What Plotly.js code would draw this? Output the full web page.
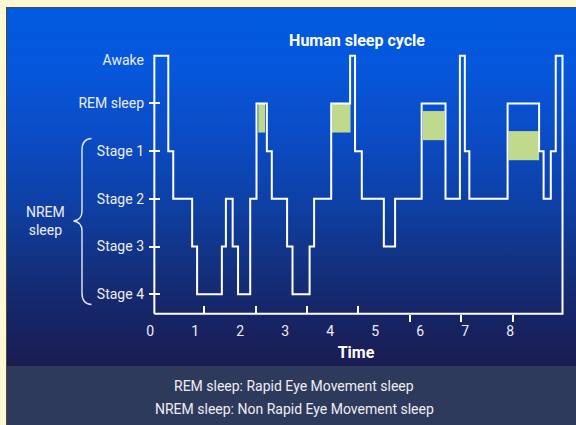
<!DOCTYPE html>
<html>
<head>
<meta charset="utf-8">
<script src="https://cdn.plot.ly/plotly-3.0.1.min.js"></script>
<style>
  html, body { margin: 0; padding: 0; background: #FFF9D3; }
  #wrap { position: relative; width: 576px; height: 425px; overflow: hidden; background: #FFF9D3; }
  #panel {
    position: absolute; left: 6px; top: 7px; width: 600px; height: 440px;
    border: 1.5px solid #4B4A3C; box-sizing: border-box;
    background: linear-gradient(to bottom,
      #005ADF 0px, #0657DC 60px, #0B4BC4 130px, #0E3FA3 200px,
      #13307E 260px, #16266A 300px, #1A1C51 358px,
      #2E3A5B 358px, #2E3A5B 440px);
  }
  #chart { position: absolute; left: 0; top: 0; width: 576px; height: 425px; }
</style>
</head>
<body>
<div id="wrap">
  <div id="panel"></div>
  <div id="chart"></div>
</div>
<script>
// ---------------- data ----------------
const stageNames  = ['Stage 4', 'Stage 3', 'Stage 2', 'Stage 1', 'REM sleep', 'Awake'];
const stageLevels = [0, 1, 2, 3, 4, 5];

// hypnogram: time (hours) at which each stage begins, and the stage level
const stageTimes = [0.09, 0.40, 0.51, 0.93, 1.04, 1.59, 1.68, 1.83, 1.95, 2.22,
                    2.36, 2.59, 2.70, 3.04, 3.16, 3.54, 3.64, 4.02, 4.44, 4.55,
                    4.70, 5.19, 5.44, 6.03, 6.56, 6.88, 6.99, 7.09, 7.94, 8.64,
                    8.74, 8.90, 9.01];
const stageSeq   = [5, 3, 2, 1, 0, 1, 2, 1, 0, 2,
                    4, 3, 2, 1, 0, 1, 2, 4, 5, 3,
                    2, 1, 2, 4, 2, 5, 3, 2, 4, 3,
                    2, 3, 5];
const endTime = 9.16;

// REM highlight blocks (green)
const remStart  = [2.40, 4.04, 6.06, 7.96];
const remEnd    = [2.55, 4.45, 6.54, 8.64];
const remTop    = [4.00, 4.00, 3.84, 3.42];
const remBottom = [3.39, 3.39, 3.23, 2.81];

const timeTicks  = [0, 1, 2, 3, 4, 5, 6, 7, 8];
const timeLabels = ['0', '1', '2', '3', '4', '5', '6', '7', '8'];

// ---------------- layout helpers ----------------
const W = 576, H = 425;
const px2x = p => p / W;
const px2y = p => 1 - p / H;
const FONT = 'Roboto, "Liberation Sans", sans-serif';
const TXT = '#EEEEF4';

const baseline = -0.41;               // level of the time axis floor
const xRange = [-0.2289, 9.3711];
const yRange = [-0.6433, 5.2242];
const xDom = [px2x(140), px2x(572)];
const yDom = [px2y(325), px2y(45)];
const axisPosX = px2x(154);           // paper x of the vertical axis
const axisPosY = px2y(314);           // paper y of the time axis

// closed step outline: left edge, hypnogram, right edge, floor
const lineX = [stageTimes[0]].concat(stageTimes, [endTime, endTime, stageTimes[0]]);
const lineY = [baseline].concat(stageSeq, [stageSeq[stageSeq.length - 1], baseline, baseline]);

const traces = [
  {
    type: 'bar',
    x: remStart.map((s, i) => (s + remEnd[i]) / 2),
    width: remStart.map((s, i) => remEnd[i] - s),
    base: remBottom,
    y: remTop.map((t, i) => t - remBottom[i]),
    marker: { color: '#BFDA8D', line: { width: 0 } },
    xaxis: 'x', yaxis: 'y', showlegend: false, hoverinfo: 'skip'
  },
  {
    type: 'scatter', mode: 'lines',
    x: lineX, y: lineY,
    line: { color: '#FFFFFF', width: 2, shape: 'hv' },
    xaxis: 'x', yaxis: 'y', showlegend: false, hoverinfo: 'skip'
  },
  { type: 'scatter', mode: 'lines', x: [], y: [], xaxis: 'x2', yaxis: 'y', showlegend: false },
  { type: 'scatter', mode: 'lines', x: [], y: [], xaxis: 'x3', yaxis: 'y', showlegend: false },
  { type: 'scatter', mode: 'lines', x: [], y: [], xaxis: 'x', yaxis: 'y2', showlegend: false }
];

const common = { showgrid: false, zeroline: false, showline: false, fixedrange: true };

const layout = {
  width: W, height: H,
  margin: { l: 0, r: 0, t: 0, b: 0, pad: 0 },
  paper_bgcolor: 'rgba(0,0,0,0)',
  plot_bgcolor: 'rgba(0,0,0,0)',
  showlegend: false,
  hovermode: false,
  font: { family: FONT, color: TXT, size: 14 },
  title: {
    text: 'Human sleep cycle',
    font: { family: FONT, size: 16, color: '#FFFFFF', weight: 'bold' },
    xref: 'paper', x: px2x(357), xanchor: 'center',
    yref: 'container', y: 1 - 40 / H, yanchor: 'middle'
  },
  xaxis: Object.assign({}, common, {
    domain: xDom, range: xRange, anchor: 'free', position: axisPosY,
    tickmode: 'array', tickvals: timeTicks, ticktext: timeLabels,
    ticks: '', ticklabelstandoff: 7,
    tickfont: { family: FONT, size: 14, color: TXT },
    title: { text: 'Time', standoff: 8, font: { family: FONT, size: 16, color: '#FFFFFF', weight: 'bold' } }
  }),
  xaxis2: Object.assign({}, common, {
    overlaying: 'x', range: xRange, anchor: 'free', position: axisPosY,
    tickmode: 'array', tickvals: [1.20, 2.34, 3.48, 4.62],
    ticks: 'inside', ticklen: 8, tickwidth: 2, tickcolor: '#FFFFFF', showticklabels: false
  }),
  xaxis3: Object.assign({}, common, {
    overlaying: 'x', range: xRange, anchor: 'free', position: axisPosY,
    tickmode: 'array', tickvals: [5.77, 6.90, 8.05],
    ticks: 'outside', ticklen: 7, tickwidth: 2, tickcolor: '#FFFFFF', showticklabels: false
  }),
  yaxis: Object.assign({}, common, {
    domain: yDom, range: yRange, anchor: 'free', position: axisPosX,
    tickmode: 'array',
    tickvals: stageLevels.map(v => (v === 5 ? v - 0.1 : v)),
    ticktext: stageNames,
    ticks: '', ticklabelstandoff: 10,
    tickfont: { family: FONT, size: 14, color: TXT }
  }),
  yaxis2: Object.assign({}, common, {
    overlaying: 'y', range: yRange, anchor: 'free', position: px2x(160),
    tickmode: 'array', tickvals: stageLevels.slice(0, 5),
    ticks: 'outside', ticklen: 11, tickwidth: 2, tickcolor: '#FFFFFF', showticklabels: false
  }),
  shapes: [
    {
      type: 'path', xref: 'paper', yref: 'paper',
      path: 'M ' + px2x(91.5) + ',' + px2y(138.5) +
            ' Q ' + px2x(82) + ',' + px2y(139) + ' ' + px2x(82) + ',' + px2y(150) +
            ' L ' + px2x(82) + ',' + px2y(211) +
            ' Q ' + px2x(82) + ',' + px2y(220) + ' ' + px2x(73.5) + ',' + px2y(221) +
            ' Q ' + px2x(82) + ',' + px2y(222) + ' ' + px2x(82) + ',' + px2y(231) +
            ' L ' + px2x(82) + ',' + px2y(293) +
            ' Q ' + px2x(82) + ',' + px2y(304) + ' ' + px2x(91.5) + ',' + px2y(304.5),
      line: { color: '#E6E8F0', width: 1.4 }
    }
  ],
  annotations: [
    { text: 'NREM<br>sleep', xref: 'paper', yref: 'paper', x: px2x(45), y: px2y(221), xanchor: 'center', yanchor: 'middle',
      showarrow: false, font: { family: FONT, size: 14, color: TXT } },
    { text: 'REM sleep: Rapid Eye Movement sleep', xref: 'paper', yref: 'paper', x: px2x(294), y: px2y(386),
      xanchor: 'center', yanchor: 'middle', showarrow: false, font: { family: FONT, size: 14, color: TXT } },
    { text: 'NREM sleep: Non Rapid Eye Movement sleep', xref: 'paper', yref: 'paper', x: px2x(294), y: px2y(408.5),
      xanchor: 'center', yanchor: 'middle', showarrow: false, font: { family: FONT, size: 14, color: TXT } }
  ]
};

Plotly.newPlot('chart', traces, layout, { staticPlot: true, displayModeBar: false });
</script>
</body>
</html>
